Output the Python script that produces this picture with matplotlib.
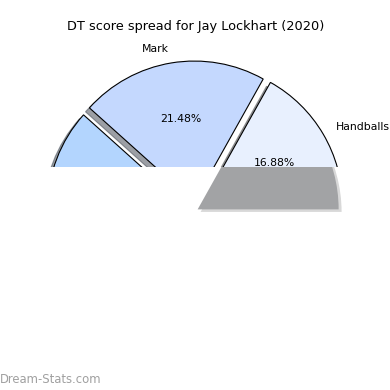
import matplotlib
matplotlib.use('Agg')
import matplotlib.pyplot as plt
from matplotlib.patches import Rectangle, Wedge
from matplotlib.transforms import Bbox, TransformedBbox

# DT score breakdown (only part of the pie is visible in the source image)
labels = ['Handballs', 'Mark', 'Kick', 'Tackle', 'Goal']
values = [16.88, 21.48, 23.30, 25.10, 13.24]
colors = ['#e8f0fe', '#c4d8fe', '#b3d5fe', '#9fc5f8', '#d0e2fc']
explode = [0.05, 0.05, 0.05, 0.05, 0.05]

fig = plt.figure(figsize=(3.9, 3.9), dpi=100)
ax = fig.add_axes([0.0494, 0.0122, 0.9038, 0.9038])

wedges, texts, autotexts = ax.pie(values, labels=labels, colors=colors, explode=explode,
                                  autopct='%.2f%%', shadow=True, startangle=0,
                                  wedgeprops={'edgecolor': 'black', 'linewidth': 0.8},
                                  textprops={'fontsize': 7.8})
ax.set_title('DT score spread for Jay Lockhart (2020)', fontsize=9.3, pad=1.5)

# lower part of the image is blanked out (half-rendered look)
cut = (390 - 167) / 390
mask = Rectangle((0, 0), 1, cut, transform=fig.transFigure, facecolor='white',
                 edgecolor='none', zorder=5, clip_on=False)
ax.add_patch(mask)

# grey band: shadow of the first wedge showing under the cut
w0 = wedges[0]
cx, cy = w0.center
band_clip = TransformedBbox(Bbox([[0, 0], [1, cut]]), fig.transFigure)
light = Wedge((cx - 0.007, cy - 0.046), w0.r, w0.theta1, w0.theta2,
              facecolor='#d8d8d8', edgecolor='none', zorder=6)
grey = Wedge((cx - 0.028, cy - 0.028), w0.r, w0.theta1, w0.theta2,
             facecolor='#a2a3a5', edgecolor='none', zorder=7)
for p in (light, grey):
    ax.add_patch(p)
    p.set_clip_box(band_clip)

fig.text(0.0, 0.01, 'Dream-Stats.com', color='#a0a0a0', fontsize=8.4, ha='left', va='bottom')

fig.savefig('out.png', dpi=100)
